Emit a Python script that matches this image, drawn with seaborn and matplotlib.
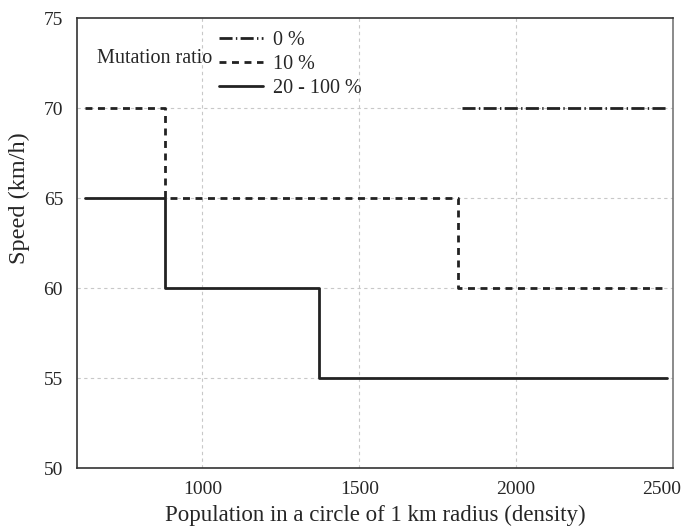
import pandas as pd
import matplotlib
matplotlib.use("Agg")
import matplotlib.pyplot as plt
import seaborn as sns
from matplotlib.lines import Line2D
from matplotlib.transforms import ScaledTranslation

# ==========================================
# DATA (step breakpoints)
# ==========================================

x_0 = [1828, 2485]
y_0 = [70, 70]

x_10 = [625, 880, 1815, 2480]
y_10 = [70, 65, 60, 60]

x_20 = [625, 880, 1370, 2480]
y_20 = [65, 60, 55, 55]

labels = ["0 %", "10 %", "20 - 100 %"]
x_ticks = [1000, 1500, 2000, 2500]
y_ticks = [50, 55, 60, 65, 70, 75]

# ==========================================
# STYLE
# ==========================================

sns.set_style("white")
plt.rcParams["font.family"] = ["Liberation Serif", "DejaVu Serif"]

fig = plt.figure(figsize=(6.86, 5.28), dpi=100)
ax = fig.add_axes([0.1122, 0.1136, 0.8688, 0.8523])

line_color = "#222222"
dash_0 = (0, (4.7, 1.2, 0.5, 1.2))
dash_10 = (0, (2.5, 2.0))

# ==========================================
# PLOT
# ==========================================

sns.lineplot(x=x_0, y=y_0, ax=ax, color=line_color, lw=2.0,
             drawstyle="steps-post", sort=False, linestyle=dash_0)
sns.lineplot(x=x_10, y=y_10, ax=ax, color=line_color, lw=2.0,
             drawstyle="steps-post", sort=False, linestyle=dash_10)
sns.lineplot(x=x_20, y=y_20, ax=ax, color=line_color, lw=2.0,
             drawstyle="steps-post", sort=False)

ax.set_xlim(600, 2500)
ax.set_ylim(50, 75)
ax.set_xticks(x_ticks)
ax.set_yticks(y_ticks)
ax.tick_params(labelsize=14, length=0)
ax.tick_params(axis="x", pad=9)
ax.tick_params(axis="y", pad=10)

# last x tick label sits a little to the left of the corner
last = ax.get_xticklabels()[-1]
last.set_transform(last.get_transform() + ScaledTranslation(-0.11, 0, fig.dpi_scale_trans))

for xv in x_ticks[:-1]:
    ax.axvline(xv, color="#c8c8c8", lw=0.8, ls=(0, (3, 3)), zorder=0)
for yv in y_ticks[1:-1]:
    ax.axhline(yv, color="#c8c8c8", lw=0.8, ls=(0, (3, 3)), zorder=0)

for side in ["left", "bottom", "top"]:
    ax.spines[side].set_color("#333333")
    ax.spines[side].set_linewidth(1.2)
ax.spines["right"].set_color("#777777")
ax.spines["right"].set_linewidth(1.2)

ax.set_xlabel("Population in a circle of 1 km radius (density)", fontsize=16.5, labelpad=5)
ax.set_ylabel("Speed (km/h)", fontsize=17.5)
ax.yaxis.set_label_coords(-0.078, 0.60)

# ==========================================
# LEGEND
# ==========================================

handles = [
    Line2D([], [], color=line_color, lw=2.0, linestyle=dash_0),
    Line2D([], [], color=line_color, lw=2.0, linestyle=dash_10),
    Line2D([], [], color=line_color, lw=2.0),
]
ax.legend(handles, labels, loc="upper left", bbox_to_anchor=(0.238, 0.972),
          frameon=False, fontsize=14.5, handlelength=2.2, handletextpad=0.5,
          labelspacing=0.25, borderaxespad=0, borderpad=0)
ax.text(0.0336, 0.91, "Mutation ratio", transform=ax.transAxes,
        fontsize=14.5, va="center", ha="left")

plt.savefig("out.png", dpi=100)
